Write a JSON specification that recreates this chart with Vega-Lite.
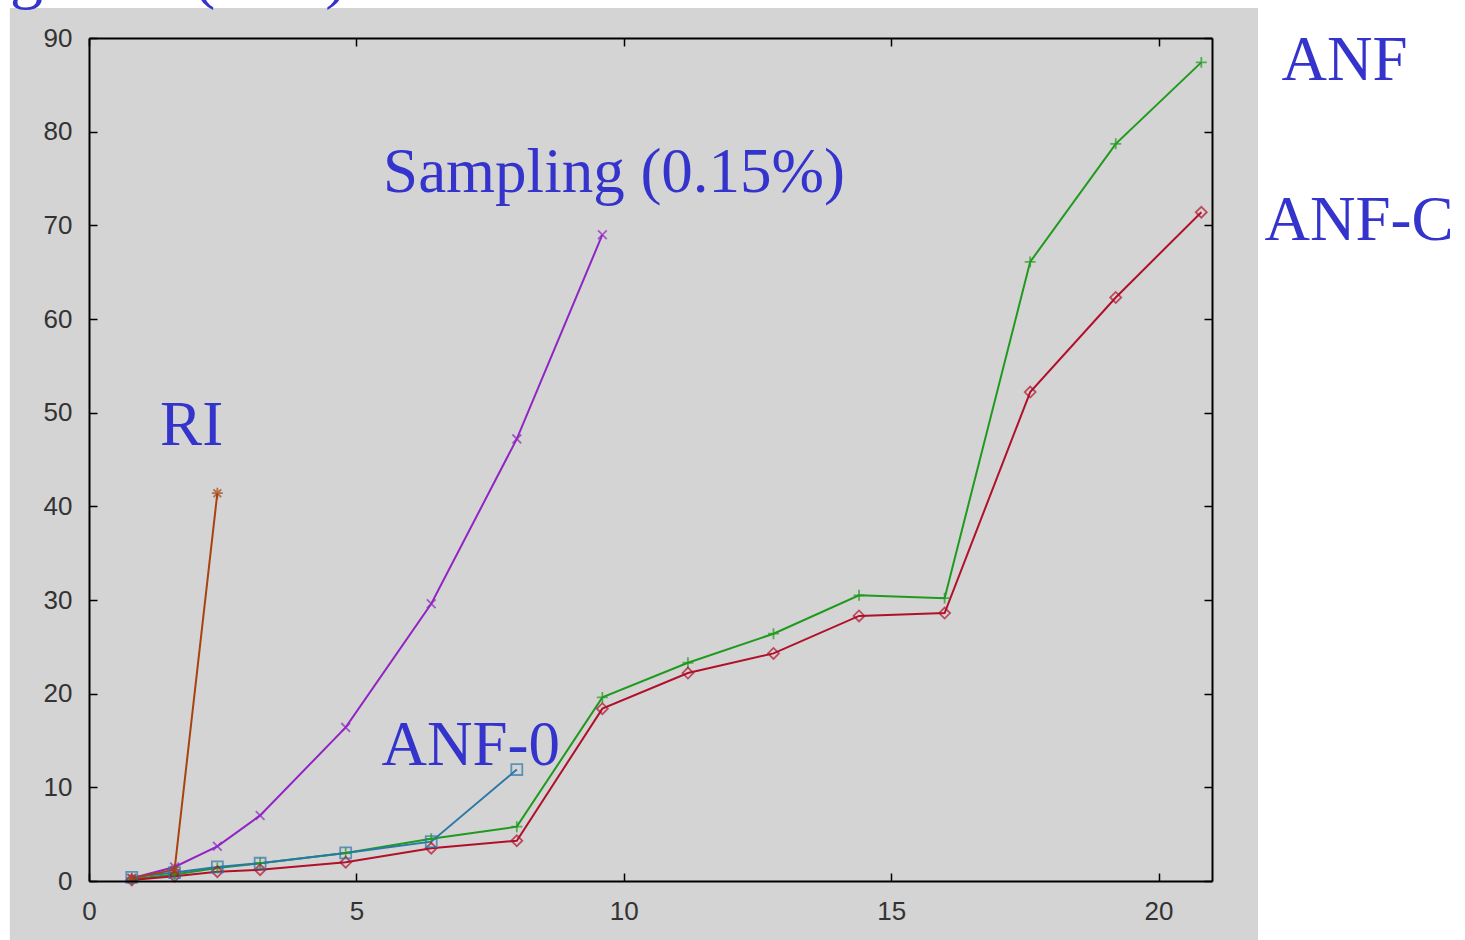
{
  "$schema": "https://vega.github.io/schema/vega-lite/v6.json",
  "width": 1123,
  "height": 843,
  "autosize": {"type": "none"},
  "padding": {"left": 89, "top": 38, "right": 253, "bottom": 59},
  "background": "white",
  "config": {"view": {"stroke": null}},
  "datasets": {
    "series": [
      {"series": "ANF", "x": 0.8, "y": 0.2},
      {"series": "ANF", "x": 1.6, "y": 0.7},
      {"series": "ANF", "x": 2.4, "y": 1.4},
      {"series": "ANF", "x": 3.2, "y": 1.9},
      {"series": "ANF", "x": 4.8, "y": 3.0},
      {"series": "ANF", "x": 6.4, "y": 4.5},
      {"series": "ANF", "x": 8.0, "y": 5.8},
      {"series": "ANF", "x": 9.6, "y": 19.6},
      {"series": "ANF", "x": 11.2, "y": 23.3},
      {"series": "ANF", "x": 12.8, "y": 26.4},
      {"series": "ANF", "x": 14.4, "y": 30.5},
      {"series": "ANF", "x": 16.0, "y": 30.2},
      {"series": "ANF", "x": 17.6, "y": 66.1},
      {"series": "ANF", "x": 19.2, "y": 78.7},
      {"series": "ANF", "x": 20.8, "y": 87.4},
      {"series": "ANF-C", "x": 0.8, "y": 0.1},
      {"series": "ANF-C", "x": 1.6, "y": 0.5},
      {"series": "ANF-C", "x": 2.4, "y": 1.0},
      {"series": "ANF-C", "x": 3.2, "y": 1.2},
      {"series": "ANF-C", "x": 4.8, "y": 2.0},
      {"series": "ANF-C", "x": 6.4, "y": 3.5},
      {"series": "ANF-C", "x": 8.0, "y": 4.3},
      {"series": "ANF-C", "x": 9.6, "y": 18.4},
      {"series": "ANF-C", "x": 11.2, "y": 22.2},
      {"series": "ANF-C", "x": 12.8, "y": 24.3},
      {"series": "ANF-C", "x": 14.4, "y": 28.3},
      {"series": "ANF-C", "x": 16.0, "y": 28.6},
      {"series": "ANF-C", "x": 17.6, "y": 52.2},
      {"series": "ANF-C", "x": 19.2, "y": 62.3},
      {"series": "ANF-C", "x": 20.8, "y": 71.4},
      {"series": "ANF-0", "x": 0.8, "y": 0.4},
      {"series": "ANF-0", "x": 1.6, "y": 0.9},
      {"series": "ANF-0", "x": 2.4, "y": 1.5},
      {"series": "ANF-0", "x": 3.2, "y": 1.9},
      {"series": "ANF-0", "x": 4.8, "y": 3.0},
      {"series": "ANF-0", "x": 6.4, "y": 4.2},
      {"series": "ANF-0", "x": 8.0, "y": 11.9},
      {"series": "Sampling", "x": 0.8, "y": 0.3},
      {"series": "Sampling", "x": 1.6, "y": 1.5},
      {"series": "Sampling", "x": 2.4, "y": 3.7},
      {"series": "Sampling", "x": 3.2, "y": 7.0},
      {"series": "Sampling", "x": 4.8, "y": 16.4},
      {"series": "Sampling", "x": 6.4, "y": 29.6},
      {"series": "Sampling", "x": 8.0, "y": 47.2},
      {"series": "Sampling", "x": 9.6, "y": 69.0},
      {"series": "RI", "x": 0.8, "y": 0.3},
      {"series": "RI", "x": 1.6, "y": 1.2},
      {"series": "RI", "x": 2.4, "y": 41.4}
    ],
    "labels": [
      {"label": "ANF", "x": 22.3, "y": 85.5},
      {"label": "ANF-C", "x": 21.98, "y": 68.4},
      {"label": "Sampling (0.15%)", "x": 5.5, "y": 73.6},
      {"label": "RI", "x": 1.33, "y": 46.5},
      {"label": "ANF-0", "x": 5.47, "y": 12.4}
    ]
  },
  "layer": [
    {
      "data": {"values": [{"x1": -1.48, "x2": 21.86, "y1": 93.2, "y2": -7}]},
      "mark": {"type": "rect", "color": "#d4d4d4"},
      "encoding": {
        "x": {"field": "x1", "type": "quantitative", "scale": {"domain": [0, 21], "nice": false, "zero": false}, "axis": null},
        "x2": {"field": "x2"},
        "y": {"field": "y1", "type": "quantitative", "scale": {"domain": [0, 90], "nice": false}, "axis": null},
        "y2": {"field": "y2"}
      }
    },
    {
      "data": {"name": "series"},
      "mark": {"type": "line", "strokeWidth": 2},
      "encoding": {
        "x": {"field": "x", "type": "quantitative", "scale": {"domain": [0, 21], "nice": false, "zero": false},
          "axis": {"orient": "bottom", "zindex": 2, "values": [0, 5, 10, 15, 20], "title": null, "grid": false, "tickSize": -8, "tickColor": "black", "tickWidth": 1.5, "domainColor": "black", "domainWidth": 2, "labelFont": "Liberation Sans", "labelFontSize": 26, "labelColor": "#333333", "labelPadding": 25, "labelFlush": false, "labelOverlap": false}},
        "y": {"field": "y", "type": "quantitative", "scale": {"domain": [0, 90], "nice": false},
          "axis": {"orient": "left", "zindex": 2, "values": [0, 10, 20, 30, 40, 50, 60, 70, 80, 90], "title": null, "grid": false, "tickSize": -8, "tickColor": "black", "tickWidth": 1.5, "domainColor": "black", "domainWidth": 2, "labelFont": "Liberation Sans", "labelFontSize": 26, "labelColor": "#333333", "labelPadding": 25, "labelFlush": false, "labelOverlap": false}},
        "color": {"field": "series", "type": "nominal", "legend": null,
          "scale": {"domain": ["ANF", "ANF-C", "ANF-0", "Sampling", "RI"], "range": ["#1f9a1f", "#b0102a", "#2a78a8", "#9024c4", "#a8420e"]}},
        "detail": {"field": "series"}
      }
    },
    {
      "data": {"name": "series"},
      "mark": {"type": "point", "filled": false, "size": 120, "strokeWidth": 1.8},
      "encoding": {
        "x": {"field": "x", "type": "quantitative",
          "axis": {"orient": "top", "zindex": 2, "values": [0, 5, 10, 15, 20], "title": null, "grid": false, "labels": false, "tickSize": -8, "tickColor": "black", "tickWidth": 1.5, "domainColor": "black", "domainWidth": 2}},
        "y": {"field": "y", "type": "quantitative",
          "axis": {"orient": "right", "zindex": 2, "values": [0, 10, 20, 30, 40, 50, 60, 70, 80, 90], "title": null, "grid": false, "labels": false, "tickSize": -8, "tickColor": "black", "tickWidth": 1.5, "domainColor": "black", "domainWidth": 2}},
        "color": {"field": "series", "type": "nominal", "legend": null},
        "shape": {"field": "series", "type": "nominal", "legend": null,
          "scale": {"domain": ["ANF", "ANF-C", "ANF-0", "Sampling", "RI"],
            "range": ["M-1,0L1,0M0,-1L0,1", "diamond", "square", "M-0.8,-0.8L0.8,0.8M-0.8,0.8L0.8,-0.8", "M-1,0L1,0M0,-1L0,1M-0.7,-0.7L0.7,0.7M-0.7,0.7L0.7,-0.7"]}}
      }
    },
    {
      "data": {"name": "labels"},
      "mark": {"type": "text", "font": "Liberation Serif", "fontSize": 63, "color": "#3434cc", "align": "left", "baseline": "alphabetic"},
      "encoding": {
        "x": {"field": "x", "type": "quantitative", "axis": null},
        "y": {"field": "y", "type": "quantitative", "axis": null},
        "text": {"field": "label"}
      }
    },
    {
      "data": {"values": [{"label": "Running time (secs)", "x": 4.83, "y": 94.5}]},
      "mark": {"type": "text", "font": "Liberation Serif", "fontSize": 66, "color": "#3434cc", "align": "right", "baseline": "alphabetic"},
      "encoding": {
        "x": {"field": "x", "type": "quantitative", "axis": null},
        "y": {"field": "y", "type": "quantitative", "axis": null},
        "text": {"field": "label"}
      }
    }
  ],
  "resolve": {"axis": {"x": "independent", "y": "independent"}}
}
